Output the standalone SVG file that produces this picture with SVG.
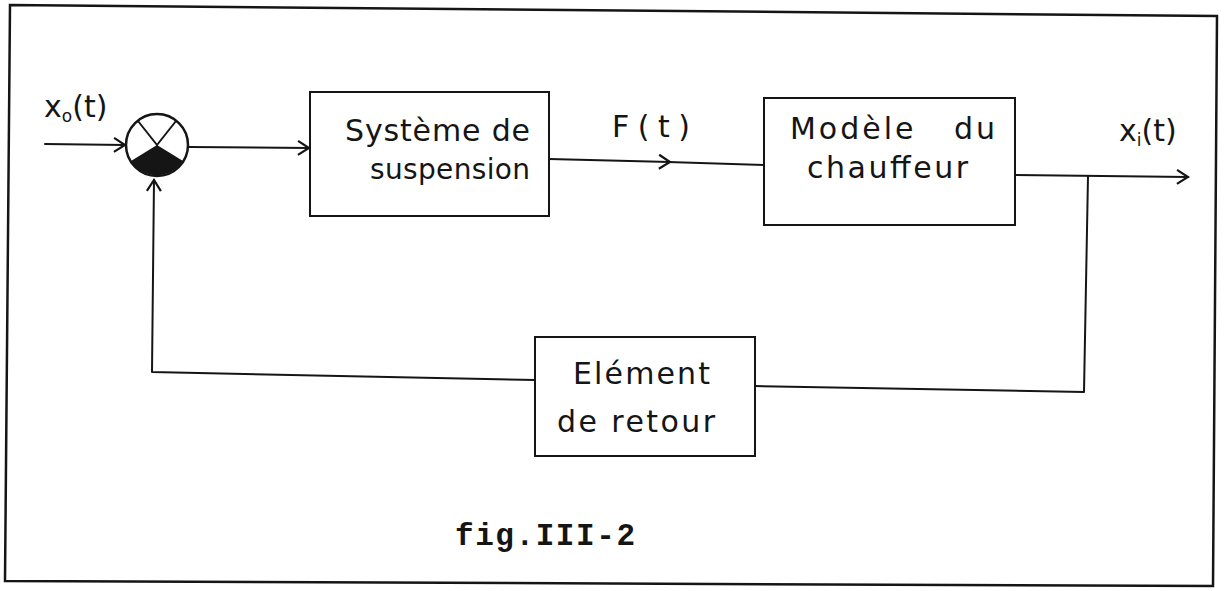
<svg xmlns="http://www.w3.org/2000/svg" width="1224" height="591" viewBox="0 0 1224 591">
<style>
.ln{fill:none;stroke:#151515;stroke-width:2;stroke-linecap:round;stroke-linejoin:round}
.box{fill:#fff;stroke:#151515;stroke-width:2}
.hw{font-family:"DejaVu Sans","Liberation Sans",sans-serif;font-size:30px;fill:#151515}
.sub{font-size:17px}
.cap{font-family:"Liberation Mono","DejaVu Sans Mono",monospace;font-size:31px;font-weight:bold;fill:#151515}
</style>
<defs>
<marker id="arr" viewBox="0 0 16 18" refX="14" refY="9" markerWidth="16" markerHeight="18" markerUnits="userSpaceOnUse" orient="auto">
<path d="M3,2 L14,9 L3,16" fill="none" stroke="#151515" stroke-width="2.2"/>
</marker>
</defs>
<rect width="1224" height="591" fill="#fff"/>
<polygon id="frame" points="10,5 1217,16 1213,586 5,581" fill="none" stroke="#151515" stroke-width="2.5"/>

<g id="connectors">
<line class="ln" x1="45" y1="144" x2="125" y2="145" marker-end="url(#arr)"/>
<line class="ln" x1="189" y1="147" x2="309" y2="148" marker-end="url(#arr)"/>
<line class="ln" x1="549" y1="159" x2="670" y2="162" marker-end="url(#arr)"/>
<line class="ln" x1="668" y1="162" x2="764" y2="165"/>
<line class="ln" x1="1015" y1="175" x2="1188" y2="177" marker-end="url(#arr)"/>
<polyline class="ln" points="1088,176 1084,392 755,386"/>
<polyline class="ln" points="535,380 152,372 154,180" marker-end="url(#arr)"/>
</g>

<g id="sum">
<circle cx="157" cy="145" r="31" fill="#fff" stroke="#151515" stroke-width="2.5"/>
<path d="M157,145 L131,161 A31,31 0 0 0 183,161 Z" fill="#151515"/>
<line class="ln" x1="138" y1="121" x2="157" y2="145"/>
<line class="ln" x1="176" y1="121" x2="157" y2="145"/>
</g>

<g id="systeme">
<rect class="box" x="310" y="92" width="239" height="124"/>
<text class="hw" x="345" y="141" textLength="185">Système de</text>
<text class="hw" x="370" y="179" style="font-size:28px" textLength="160">suspension</text>
</g>

<g id="modele">
<rect class="box" x="764" y="98" width="251" height="127"/>
<text class="hw" x="790" y="139" textLength="205" xml:space="preserve">Modèle   du</text>
<text class="hw" x="807" y="178" textLength="161">chauffeur</text>
</g>

<g id="retour">
<rect class="box" x="535" y="337" width="220" height="119"/>
<text class="hw" x="573" y="384" textLength="137">Elément</text>
<text class="hw" x="557" y="432" textLength="158">de retour</text>
</g>

<g id="labels">
<text class="hw" x="44" y="117">x<tspan class="sub" dy="5">o</tspan><tspan dy="-5">(t)</tspan></text>
<text class="hw" x="612" y="137" textLength="78">F(t)</text>
<text class="hw" x="1119" y="141">x<tspan class="sub" dy="5">i</tspan><tspan dy="-5">(t)</tspan></text>
<text class="cap" x="455" y="545" textLength="180">fig.III-2</text>
</g>
</svg>
